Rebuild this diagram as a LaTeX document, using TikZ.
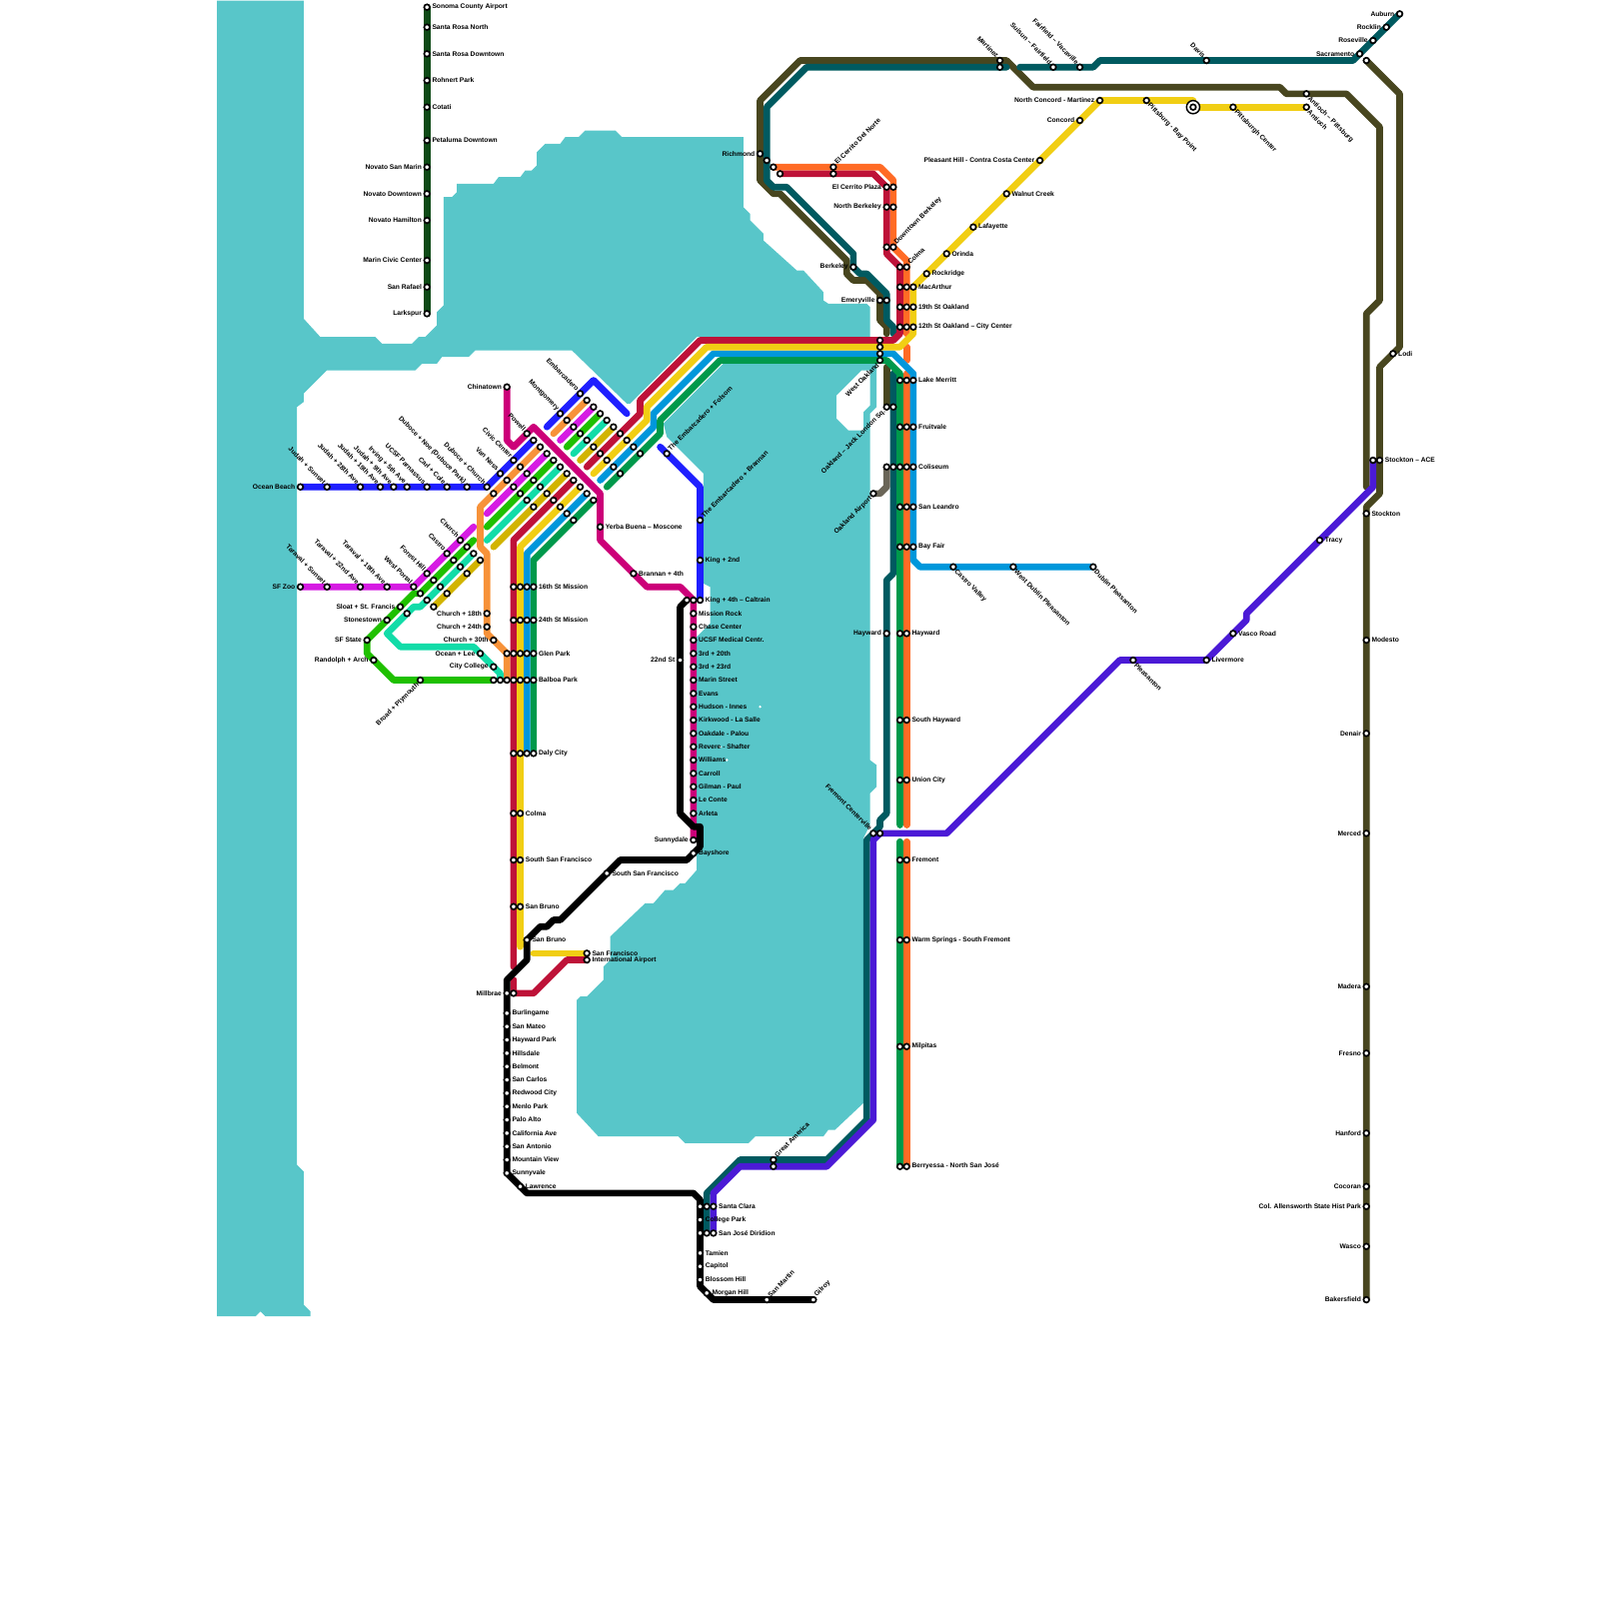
\documentclass[tikz,border=0pt]{standalone}
\usepackage{fontspec}
\usepackage{xcolor}
\usepackage{tikz}
\usetikzlibrary{backgrounds}
\setmainfont{Liberation Sans}
\definecolor{bayWater}{HTML}{58C6C9}
\definecolor{bartRed}{HTML}{BE1238}
\definecolor{bartYellow}{HTML}{F1CE14}
\definecolor{bartBlue}{HTML}{0097DB}
\definecolor{bartGreen}{HTML}{00994B}
\definecolor{bartOrange}{HTML}{FF6B25}
\definecolor{muniBlue}{HTML}{1F1FFF}
\definecolor{muniOrange}{HTML}{F79239}
\definecolor{muniPink}{HTML}{D61BE3}
\definecolor{muniGreen}{HTML}{1FC000}
\definecolor{muniTeal}{HTML}{12DCA8}
\definecolor{muniGold}{HTML}{D2B400}
\definecolor{muniThird}{HTML}{CC0079}
\definecolor{amOlive}{HTML}{48461F}
\definecolor{amTeal}{HTML}{005A60}
\definecolor{acePurple}{HTML}{4B1AD6}
\definecolor{smartGreen}{HTML}{0E4A16}
\definecolor{airGrey}{HTML}{6B6658}

\begin{document}
\begin{tikzpicture}[
    x=1mm, y=-1mm,
    stn/.style={circle, draw=black, fill=white, line width=.25mm, inner sep=0pt, outer sep=0pt, minimum size=.85mm},
    hubring/.style={circle, draw=black, fill=white, line width=.22mm, inner sep=0pt, outer sep=0pt, minimum size=1.98mm},
    lab/.style={font=\fontsize{2.85}{3}\selectfont\bfseries, inner sep=0pt, text=black},
    rlab/.style={label={[lab,label distance=.3mm]0:#1}},
    llab/.style={label={[lab,label distance=.3mm]180:#1}},
    nwlab/.style={label={[lab,rotate=-45,anchor=east,label distance=.25mm]135:#1}},
    selab/.style={label={[lab,rotate=-45,anchor=west,label distance=.25mm]-45:#1}},
    nelab/.style={label={[lab,rotate=45,anchor=west,label distance=.25mm]45:#1}},
    swlab/.style={label={[lab,rotate=45,anchor=east,label distance=.25mm]225:#1}},
    ln/.style={draw=#1, line width=1mm, line cap=round, line join=round}
]
\useasboundingbox (-0.08,-0.08) rectangle (239.92,239.92);

% Market Street rows
\node[stn, nwlab={Embarcadero}] (em0) at (87,59) {};
\node[stn, nwlab={Montgomery}] (mo0) at (84,62) {};
\node[stn, nwlab={Powell}] (po0) at (79,65) {};
\node[stn, nwlab={Civic Center}] (cc0) at (77,69) {};
\node[stn, nwlab={Van Ness}] (vn0) at (75,71) {};
\node[stn, nwlab={Duboce + Church}] (dc0) at (73,73) {};
\node[stn] (dc1) at (74,74) {};
\foreach \i in {1,...,9} \node[stn] (em\i) at ({87+\i},{59+\i}) {};
\foreach \i in {1,...,9} \node[stn] (mo\i) at ({84+\i},{62+\i}) {};
\foreach \i in {1,...,10} \node[stn] (po\i) at ({79+\i},{65+\i}) {};
\foreach \i in {1,...,9} \node[stn] (cc\i) at ({77+\i},{69+\i}) {};
\foreach \i in {1,...,5} \node[stn] (vn\i) at ({75+\i},{71+\i}) {};
\foreach \i in {0,...,9} \coordinate (ue\i) at ({82+\i},{64+\i});

% Twin Peaks rows
\node[stn, nwlab={Church}] (wc0) at (69,81) {};
\node[stn, nwlab={Castro}] (ca0) at (67,83) {};
\node[stn, nwlab={Forest Hill}] (fh0) at (64,86) {};
\node[stn, nwlab={West Portal}] (wp0) at (62,88) {};
\foreach \i in {1,2,3} {
    \node[stn] (wc\i) at ({69+\i},{81+\i}) {};
    \node[stn] (ca\i) at ({67+\i},{83+\i}) {};
    \node[stn] (fh\i) at ({64+\i},{86+\i}) {};
    \node[stn] (wp\i) at ({62+\i},{88+\i}) {};
}

% Judah and Taraval
\node[stn, llab={Ocean Beach}] (ocean) at (45,73) {};
\foreach \nm/\xx/\txt in {jd1/49/{Judah + Sunset}, jd2/54/{Judah + 28th Ave}, jd3/57/{Judah + 19th Ave}, jd4/59/{Judah + 9th Ave}, jd5/61/{Irving + 5th Ave}, jd6/64/{UCSF Parnassus}, jd7/67/{Carl + Cole}, jd8/70/{Duboce + Noe (Duboce Park)}}
    \node[stn, nwlab={\txt}] (\nm) at (\xx,73) {};
\node[stn, llab={SF Zoo}] (zoo) at (45,88) {};
\foreach \nm/\xx/\txt in {tv1/49/{Taraval + Sunset}, tv2/54/{Taraval + 22nd Ave}, tv3/58/{Taraval + 19th Ave}}
    \node[stn, nwlab={\txt}] (\nm) at (\xx,88) {};

% West side
\foreach \nm/\xx/\yy/\txt in {sloat/60/91/{Sloat + St. Francis}, stone/58/93/{Stonestown}, sfstate/55/96/{SF State}, rand/56/99/{Randolph + Arch}, ch18/73/92/{Church + 18th}, ch24/73/94/{Church + 24th}, ch30/74/96/{Church + 30th}, lee/72/98/{Ocean + Lee}, ccsf/74/100/{City College}}
    \node[stn, llab={\txt}] (\nm) at (\xx,\yy) {};
\node[stn] (sloat2) at (61,92) {};
\node[stn, swlab={Broad + Plymouth}] (broad) at (63,102) {};
\foreach \i in {0,1,2} \node[stn] (bal\i) at ({74+\i},102) {};

% BART through the city
\foreach \x in {77,78,79} {
    \node[stn] (a\x) at (\x,88) {};
    \node[stn] (b\x) at (\x,93) {};
    \node[stn] (gl\x) at (\x,98) {};
    \node[stn] (bp\x) at (\x,102) {};
    \node[stn] (dy\x) at (\x,113) {};
}
\node[stn] (gl76) at (76,98) {};
\node[stn, rlab={16th St Mission}] (a80) at (80,88) {};
\node[stn, rlab={24th St Mission}] (b80) at (80,93) {};
\node[stn, rlab={Glen Park}] (gl80) at (80,98) {};
\node[stn, rlab={Balboa Park}] (bp80) at (80,102) {};
\node[stn, rlab={Daly City}] (dy80) at (80,113) {};
\foreach \nm/\yy/\txt in {colma/122/{Colma}, ssf/129/{South San Francisco}, sbr/136/{San Bruno}} {
    \node[stn] (\nm1) at (77,\yy) {};
    \node[stn, rlab={\txt}] (\nm2) at (78,\yy) {};
}
\node[stn, rlab={San Francisco}] (sfoa) at (88,143) {};
\node[stn, rlab={International Airport}] (sfob) at (88,144) {};

% Chinatown and Third Street
\node[stn, llab={Chinatown}] (china) at (76,58) {};
\node[stn, rlab={Yerba Buena – Moscone}] (yerba) at (90,79) {};
\node[stn, rlab={Brannan + 4th}] (brann) at (95,86) {};
\node[stn, nelab={The Embarcadero + Folsom}] (folsom) at (100,68) {};
\node[stn, nelab={The Embarcadero + Brannan}] (embr) at (105,78) {};
\node[stn, rlab={King + 2nd}] (king2) at (105,84) {};
\node[stn] (k4a) at (103,90) {};
\node[stn] (k4b) at (104,90) {};
\node[stn, rlab={King + 4th – Caltrain}] (k4c) at (105,90) {};
\foreach \nm/\yy/\txt in {t1/92/{Mission Rock}, t2/94/{Chase Center}, t3/96/{UCSF Medical Centr.}, t4/98/{3rd + 20th}, t5/100/{3rd + 23rd}, t6/102/{Marin Street}, t7/104/{Evans}, t8/106/{Hudson - Innes}, t9/108/{Kirkwood - La Salle}, t10/110/{Oakdale - Palou}, t11/112/{Revere - Shafter}, t12/114/{Williams}, t13/116/{Carroll}, t14/118/{Gilman - Paul}, t15/120/{Le Conte}, t16/122/{Arleta}}
    \node[stn, rlab={\txt}] (\nm) at (104,\yy) {};
\node[stn, llab={Sunnydale}] (sunnyd) at (104,126) {};

% Caltrain
\node[stn, llab={22nd St}] (st22) at (102,99) {};
\node[stn, rlab={Bayshore}] (bayshore) at (104,128) {};
\node[stn, rlab={South San Francisco}] (cssf) at (91,131) {};
\node[stn, rlab={San Bruno}] (csb) at (79,141) {};
\node[stn, llab={Millbrae}] (mb1) at (76,149) {};
\node[stn] (mb2) at (77,149) {};
\foreach \nm/\yy/\txt in {c1/152/{Burlingame}, c2/154/{San Mateo}, c3/156/{Hayward Park}, c4/158/{Hillsdale}, c5/160/{Belmont}, c6/162/{San Carlos}, c7/164/{Redwood City}, c8/166/{Menlo Park}, c9/168/{Palo Alto}, c10/170/{California Ave}, c11/172/{San Antonio}, c12/174/{Mountain View}, c13/176/{Sunnyvale}}
    \node[stn, rlab={\txt}] (\nm) at (76,\yy) {};
\node[stn, rlab={Lawrence}] (lawr) at (78,178) {};
\node[stn] (sc1) at (105,181) {};
\node[stn] (sc2) at (106,181) {};
\node[stn, rlab={Santa Clara}] (sc3) at (107,181) {};
\node[stn, rlab={College Park}] (colpk) at (105,183) {};
\node[stn] (sj1) at (105,185) {};
\node[stn] (sj2) at (106,185) {};
\node[stn, rlab={San José Diridion}] (sj3) at (107,185) {};
\foreach \nm/\yy/\txt in {tam/188/{Tamien}, cap/190/{Capitol}, blos/192/{Blossom Hill}}
    \node[stn, rlab={\txt}] (\nm) at (105,\yy) {};
\node[stn, rlab={Morgan Hill}] (morg) at (106,194) {};
\node[stn, nelab={San Martin}] (smart) at (115,195) {};
\node[stn, nelab={Gilroy}] (gilroy) at (122,195) {};

% SMART
\foreach \nm/\yy/\txt in {sonoma/1/{Sonoma County Airport}, srn/4/{Santa Rosa North}, srd/8/{Santa Rosa Downtown}, rohn/12/{Rohnert Park}, cotati/16/{Cotati}, petal/21/{Petaluma Downtown}}
    \node[stn, rlab={\txt}] (\nm) at (64,\yy) {};
\foreach \nm/\yy/\txt in {novsm/25/{Novato San Marin}, novd/29/{Novato Downtown}, novh/33/{Novato Hamilton}, civic/39/{Marin Civic Center}, rafael/43/{San Rafael}, larks/47/{Larkspur}}
    \node[stn, llab={\txt}] (\nm) at (64,\yy) {};

% East Bay north
\node[stn, llab={Richmond}] (rich1) at (114,23) {};
\node[stn] (rich2) at (115,24) {};
\node[stn] (rich3) at (116,25) {};
\node[stn] (rich4) at (117,26) {};
\node[stn, nelab={El Cerrito Del Norte}] (delnorte1) at (125,25) {};
\node[stn] (delnorte2) at (125,26) {};
\node[stn, llab={El Cerrito Plaza}] (plaza1) at (133,28) {};
\node[stn] (plaza2) at (134,28) {};
\node[stn, llab={North Berkeley}] (nberk1) at (133,31) {};
\node[stn] (nberk2) at (134,31) {};
\node[stn] (dtb1) at (133,37) {};
\node[stn, nelab={Downtown Berkeley}] (dtb2) at (134,37) {};
\node[stn] (col1) at (135,40) {};
\node[stn, nelab={Colma}] (col2) at (136,40) {};
\node[stn, llab={Berkeley}] (berk) at (128,40) {};
\node[stn, llab={Emeryville}] (emery1) at (132,45) {};
\node[stn] (emery2) at (133,45) {};
\foreach \nm/\yy/\txt in {mac/43/{MacArthur}, oakn/46/{19th St Oakland}, oakt/49/{12th St Oakland – City Center}, lake/57/{Lake Merritt}, fruit/64/{Fruitvale}, coli/70/{Coliseum}, sanl/76/{San Leandro}, bayf/82/{Bay Fair}} {
    \node[stn] (\nm a) at (135,\yy) {};
    \node[stn] (\nm b) at (136,\yy) {};
    \node[stn, rlab={\txt}] (\nm c) at (137,\yy) {};
}
\foreach \i in {51,52,53} \node[stn] (wo\i) at (132,\i) {};
\node[stn, swlab={West Oakland}] (wo54) at (132,54) {};
\node[stn, swlab={Oakland – Jack London Sq.}] (jl1) at (133,61) {};
\node[stn] (jl2) at (134,61) {};
\node[stn] (coli1) at (133,70) {};
\node[stn] (coli2) at (134,70) {};
\node[stn, swlab={Oakland Airport}] (air) at (131,74) {};

% East Bay south
\node[stn, llab={Hayward}] (amhay) at (133,95) {};
\foreach \nm/\yy/\txt in {hay/95/{Hayward}, shay/108/{South Hayward}, union/117/{Union City}, frem/129/{Fremont}, warm/141/{Warm Springs - South Fremont}, milp/157/{Milpitas}, berry/175/{Berryessa - North San José}} {
    \node[stn] (\nm a) at (135,\yy) {};
    \node[stn, rlab={\txt}] (\nm b) at (136,\yy) {};
}
\node[stn, nwlab={Fremont Centerville}] (fc1) at (131,125) {};
\node[stn] (fc2) at (132,125) {};
\node[stn, nelab={Great America}] (ga1) at (116,174) {};
\node[stn] (ga2) at (116,175) {};
\node[stn, selab={Castro Valley}] (castrov) at (143,85) {};
\node[stn, selab={West Dublin Pleasanton}] (wdub) at (152,85) {};
\node[stn, selab={Dublin Pleasanton}] (dub) at (164,85) {};
\node[stn, selab={Pleasanton}] (pleas) at (170,99) {};
\node[stn, rlab={Livermore}] (liver) at (181,99) {};
\node[stn, rlab={Vasco Road}] (vasco) at (185,95) {};
\node[stn, rlab={Tracy}] (tracy) at (198,81) {};

% Contra Costa
\foreach \nm/\xx/\yy/\txt in {rockr/139/41/{Rockridge}, orinda/142/38/{Orinda}, lafay/146/34/{Lafayette}, walnut/151/29/{Walnut Creek}}
    \node[stn, rlab={\txt}] (\nm) at (\xx,\yy) {};
\foreach \nm/\xx/\yy/\txt in {phill/156/24/{Pleasant Hill - Contra Costa Center}, concord/162/18/{Concord}, ncon/165/15/{North Concord - Martinez}}
    \node[stn, llab={\txt}] (\nm) at (\xx,\yy) {};
\node[stn, selab={Pittsburg - Bay Point}] (bayp) at (172,15) {};
\node[hubring] (hubo) at (179,16) {};
\node[stn] (hub) at (179,16) {};
\node[stn, selab={Pittsburgh Center}] (pitc) at (185,16) {};
\node[stn, selab={Antioch}] (anti) at (196,16) {};
\node[stn, selab={Antioch – Pittsburg}] (antip) at (196,14) {};

% Capitol Corridor and San Joaquins
\node[stn, nwlab={Martinez}] (mart1) at (150,9) {};
\node[stn] (mart2) at (150,10) {};
\node[stn, nwlab={Suisun – Fairfield}] (suisun) at (158,10) {};
\node[stn, nwlab={Fairfield – Vacaville}] (vaca) at (162,10) {};
\node[stn, nwlab={Davis}] (davis) at (181,9) {};
\foreach \nm/\xx/\yy/\txt in {sacr/204/8/{Sacramento}, rosev/206/6/{Roseville}, rockl/208/4/{Rocklin}, aub/210/2/{Auburn}}
    \node[stn, llab={\txt}] (\nm) at (\xx,\yy) {};
\node[stn] (sacr2) at (205,9) {};
\node[stn, rlab={Lodi}] (lodi) at (209,53) {};
\node[stn] (ace1) at (206,69) {};
\node[stn, rlab={Stockton – ACE}] (ace2) at (207,69) {};
\node[stn, rlab={Stockton}] (stock) at (205,77) {};
\node[stn, rlab={Modesto}] (modest) at (205,96) {};
\foreach \nm/\yy/\txt in {denair/110/{Denair}, merced/125/{Merced}, madera/148/{Madera}, fresno/158/{Fresno}, hanf/170/{Hanford}, cocor/178/{Cocoran}, allens/181/{Col. Allensworth State Hist Park}, wasco/187/{Wasco}, baker/195/{Bakersfield}}
    \node[stn, llab={\txt}] (\nm) at (205,\yy) {};

\coordinate (cutRedA) at (77,145);
\coordinate (cutRedB) at (77,147);
\coordinate (cutYelA) at (78,142);
\coordinate (cutYelB) at (80,143);
\coordinate (cutTealA) at (151,10);
\coordinate (cutTealB) at (153,10);
\coordinate (cutTealC) at (134,50);
\coordinate (cutTealD) at (134,56);
\coordinate (cutOliveA) at (205,73);
\coordinate (cutOliveB) at (133,50);
\coordinate (cutOliveC) at (133,55);
\coordinate (cutOrA) at (136,50);
\coordinate (cutOrB) at (136,52);
\coordinate (cutOrC) at (136,54);
\coordinate (cutOrD) at (136,56);
\coordinate (cutOrE) at (136,123.75);
\coordinate (cutOrF) at (136,126.25);
\coordinate (cutGrA) at (135,123.75);
\coordinate (cutGrB) at (135,126.25);
\coordinate (folsomEnd) at (99,67);
\coordinate (blueEnd) at (94,62);
\coordinate (pinkEnd) at (73,77);
\coordinate (greenEnd) at (73,79);
\coordinate (tealEnd) at (73,81);
\coordinate (goldEnd) at (74,82);
\coordinate (pinkTop) at (71,79);
\coordinate (greenTop) at (71,81);

\begin{scope}[on background layer]
% the water
\fill[bayWater] (32.5,0) -- (45.5,0) -- (45.5,47.75) -- (48,50.5) -- (56.25,50.5) -- (57.25,51.5) -- (61.75,51.5) -- (62.75,50.5) -- (63.75,50.5) -- (65.5,48.75) -- (65.5,46.75) -- (66.5,45.75) -- (66.5,29.5) -- (67.75,29.5) -- (68.5,28.75) -- (68.5,27.5) -- (74,27.5) -- (74.75,26.5) -- (78,26.5) -- (78.75,25.5) -- (79.75,25.5) -- (80.5,24.75) -- (80.5,22.75) -- (81.75,21.5) -- (84,21.5) -- (84.75,20.5) -- (86.75,20.5) -- (87.75,19.5) -- (92.25,19.5) -- (93.25,20.5) -- (111.5,20.5) -- (111.5,31) -- (112.5,32) -- (112.5,33) -- (114.5,35) -- (114.5,36) -- (119.5,40.5) -- (120.5,40.5) -- (123.5,43.75) -- (123.5,45) -- (124.25,45.5) -- (130,45.5) -- (130.5,46) -- (130.5,50.5) -- (104.5,50.5) -- (94.5,60.5) -- (94,60.5) -- (85.75,52.5) -- (71.25,52.5) -- (70.25,53.5) -- (66.25,53.5) -- (65.5,54.5) -- (63.25,54.5) -- (62.25,55.5) -- (49,55.5) -- (45.5,59) -- (45.5,60.25) -- (44.5,61) -- (44.5,174.75) -- (45.5,175.75) -- (45.5,195.75) -- (46.5,196.75) -- (46.5,197.5) -- (39.75,197.5) -- (39,196.75) -- (38.25,197.5) -- (32.5,197.5) -- cycle;
\fill[bayWater] (108.5,54.5) -- (131.5,54.5) -- (131.5,61) -- (130.5,62) -- (130.5,114) -- (131.5,114.75) -- (131.5,118) -- (130.5,119) -- (130.5,123.75) -- (129.5,125.75) -- (129.5,165.5) -- (125.25,169.5) -- (124.25,169.5) -- (123.5,170.5) -- (113.25,170.5) -- (112.25,171.5) -- (102.75,171.5) -- (101.75,170.5) -- (89.75,170.5) -- (86.5,167) -- (86.5,150) -- (87,149.5) -- (88,149.5) -- (90.5,147) -- (90.5,145) -- (91.5,144) -- (91.5,140.5) -- (96.75,135.5) -- (98,135.5) -- (99.75,133.5) -- (101,133.5) -- (102,132.5) -- (102.75,132.5) -- (104.5,130.5) -- (104.5,95.5) -- (106.5,93.5) -- (106.5,88) -- (105.5,87.5) -- (105.5,71) -- (100,65.5) -- (99.5,63.5) -- cycle;
\fill[white] (125.5,59.25) -- (129.25,55.5) -- (130.5,55.5) -- (130.5,60.75) -- (129.5,61.75) -- (129.5,64.5) -- (127.25,64.5) -- (125.5,62.75) -- cycle;
\foreach \xx/\yy in {114/106, 108/112, 109/114} \fill[white] (\xx,\yy) circle (.2);

% intercity lines
\draw[ln=amOlive] (cutOliveA) -- (205,47) -- (207,45) -- (207,19) -- (202,14) -- (193,14) -- (192,13) -- (155,13) -- (151,9) -- (120,9) -- (114,15) -- (114,27) -- (116,29) -- (117,29) -- (127,39) -- (127,41) -- (128,42) -- (130,42) -- (132,44) -- (132,48) -- (133,49) -- (cutOliveB);
\draw[ln=amOlive] (cutOliveC) -- (jl1.center);
\draw[ln=amOlive] (sacr2.center) -- (210,14) -- (210,52) -- (207,55) -- (207,74) -- (205,76) -- (baker.center);
\draw[ln=amTeal] (cutTealA) -- (121,10) -- (115,16) -- (115,27) -- (116,28) -- (118,28) -- (128,38) -- (128,40) -- (129,41) -- (130,41) -- (133,44) -- (133,48) -- (134,49) -- (cutTealC);
\draw[ln=amTeal] (cutTealD) -- (134,86) -- (133,87) -- (133,122) -- (132,123) -- (132,124) -- (130,126) -- (130,168) -- (124,174) -- (111,174) -- (106,179) -- (sj2.center);
\draw[ln=amTeal] (cutTealB) -- (164,10) -- (165,9) -- (203,9) -- (aub.center);
\draw[ln=airGrey] (coli1.center) -- (133,73) -- (132,74) -- (air.center);
\draw[ln=smartGreen] (sonoma.center) -- (larks.center);

% city lines
\draw[ln=muniBlue] (ocean.center) -- (dc0.center) -- (po1.center);
\draw[ln=muniBlue] (ue0) -- (89,57) -- (blueEnd);
\draw[ln=muniBlue] (folsomEnd) -- (105,73) -- (k4c.center);
\draw[ln=muniOrange] (ue1) -- (em1.center);
\draw[ln=muniOrange] (po2.center) -- (72,76) -- (72,82) -- (73,83) -- (73,95) -- (gl76.center) -- (bal2.center);
\draw[ln=muniPink] (ue2) -- (em2.center);
\draw[ln=muniPink] (po3.center) -- (pinkEnd);
\draw[ln=muniPink] (zoo.center) -- (wp0.center) -- (pinkTop);
\draw[ln=muniGreen] (ue3) -- (em3.center);
\draw[ln=muniGreen] (po4.center) -- (greenEnd);
\draw[ln=muniGreen] (greenTop) -- (wp1.center) -- (62,89) -- (sfstate.center) -- (55,98) -- (59,102) -- (bal0.center);
\draw[ln=muniTeal] (ue4) -- (em4.center);
\draw[ln=muniTeal] (po5.center) -- (tealEnd);
\draw[ln=muniTeal] (wc2.center) -- (63,91) -- (62,91) -- (58,95) -- (60,97) -- (71,97) -- (75,101) -- (bal1.center);
\draw[ln=muniGold] (ue5) -- (em5.center);
\draw[ln=muniGold] (po6.center) -- (goldEnd);
\draw[ln=muniGold] (wc3.center) -- (wp3.center);
\draw[ln=muniThird] (china.center) -- (76,66) -- (77,67) -- (80,64) -- (90,74) -- (90,81) -- (97,88) -- (102,88) -- (k4b.center) -- (sunnyd.center);

% BART
\draw[ln=bartGreen] (ue9) -- (99,65) -- (99,63) -- (108,54) -- (133,54) -- (135,56) -- (cutGrA);
\draw[ln=bartGreen] (cutGrB) -- (berrya.center);
\draw[ln=bartGreen] (po10.center) -- (80,84) -- (dy80.center);
\draw[ln=bartOrange] (rich3.center) -- (132,25) -- (134,27) -- (dtb2.center) -- (136,39) -- (cutOrA);
\draw[ln=bartOrange] (cutOrB) -- (cutOrC);
\draw[ln=bartOrange] (cutOrD) -- (cutOrE);
\draw[ln=bartOrange] (cutOrF) -- (berryb.center);
\draw[ln=bartBlue] (ue8) -- (98,64) -- (98,62) -- (107,53) -- (134,53) -- (137,56) -- (137,84) -- (138,85) -- (dub.center);
\draw[ln=bartBlue] (po9.center) -- (79,83) -- (dy79.center);
\draw[ln=bartRed] (ue6) -- (96,62) -- (96,60) -- (105,51) -- (134,51) -- (135,50) -- (col1.center) -- (133,38) -- (plaza1.center) -- (131,26) -- (rich4.center);
\draw[ln=bartRed] (po7.center) -- (77,81) -- (cutRedA);
\draw[ln=bartRed] (cutRedB) -- (mb2.center) -- (80,149) -- (85,144) -- (sfob.center);
\draw[ln=bartYellow] (ue7) -- (97,63) -- (97,61) -- (106,52) -- (135,52) -- (137,50) -- (macc.center) -- (ncon.center) -- (179,15);
\draw[ln=bartYellow] (hub.center) -- (anti.center);
\draw[ln=bartYellow] (po8.center) -- (78,82) -- (cutYelA);
\draw[ln=bartYellow] (cutYelB) -- (sfoa.center);

% ACE and Caltrain
\draw[ln=acePurple] (ace1.center) -- (206,73) -- (187,92) -- (187,93) -- (liver.center) -- (168,99) -- (142,125) -- (fc2.center) -- (131,126) -- (131,168) -- (124,175) -- (111,175) -- (107,179) -- (sj3.center);
\draw[ln=black] (k4a.center) -- (102,91) -- (102,122) -- (104,124) -- (105,124) -- (105,127) -- (103,129) -- (93,129) -- (84,138) -- (83,138) -- (82,139) -- (81,139) -- (csb.center) -- (79,144) -- (76,147) -- (c13.center) -- (79,179) -- (104,179) -- (105,180) -- (105,193) -- (107,195) -- (gilroy.center);
\end{scope}

\end{tikzpicture}
\end{document}
